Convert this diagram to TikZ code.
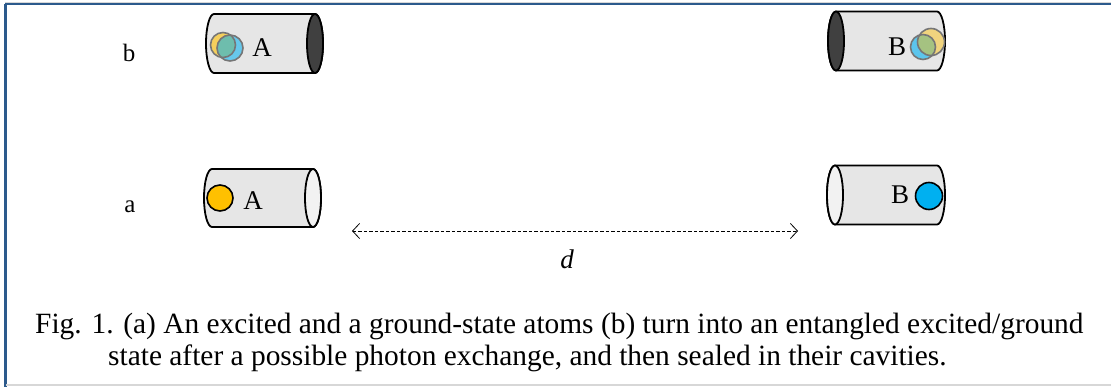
\documentclass[tikz,border=0pt]{standalone}
\usepackage{fontspec}
\setmainfont{Liberation Serif}
\usetikzlibrary{arrows.meta}
\definecolor{frameblue}{RGB}{44,90,140}
\definecolor{framegray}{RGB}{215,215,215}
\definecolor{cylfill}{RGB}{230,230,230}
\definecolor{capdark}{RGB}{64,64,64}
\definecolor{caplight}{RGB}{242,242,242}
\definecolor{atomyellow}{RGB}{255,192,0}
\definecolor{atomblue}{RGB}{0,176,240}
\definecolor{atomgray}{RGB}{118,118,118}
% body of a cylinder: #1 left cap centre x, #2 right cap centre x, #3 centre y, #4 y radius, #5 x radius
\newcommand{\cylbody}[5]{%
  \draw[cylline, fill=cylfill] (#1,#3-#4) -- (#2,#3-#4)
    arc[start angle=90, end angle=-90, x radius=#5pt, y radius=#4pt]
    -- (#1,#3+#4)
    arc[start angle=270, end angle=90, x radius=#5pt, y radius=#4pt] -- cycle;}
\tikzset{
  cylline/.style={draw=black, line width=1.8pt},
  lbl/.style={font=\fontsize{27}{31}\selectfont, inner sep=0pt},
  rowlbl/.style={font=\fontsize{25}{29}\selectfont, inner sep=0pt},
  captxt/.style={font=\fontsize{29.4}{34}\selectfont, inner sep=0pt, anchor=base west},
  atomline/.style={draw=black, line width=1.6pt},
  dist/.style={dashed, dash pattern=on 3.5pt off 2pt, line width=0.8pt,
     {Straight Barb[length=7pt,width=15pt,line width=0.8pt]}-{Straight Barb[length=7pt,width=15pt,line width=0.8pt]}}
}
\begin{document}
\begin{tikzpicture}[x=1pt,y=-1pt]
\useasboundingbox (0,0) rectangle (1111,387);
\fill[white] (0,0) rectangle (1111,387);
% frame
\draw[framegray, line width=1pt] (5,2.2) -- (1111,2.2);
\draw[frameblue, line width=2pt] (5,4.5) -- (1111,4.5);
\draw[frameblue, line width=2.2pt] (5.5,4) -- (5.5,387);
\draw[framegray, line width=1.2pt] (6,385) -- (1111,385);

% row labels
\node[rowlbl] (rb) at (129,53) {b};
\node[rowlbl] (ra) at (130,207) {a};

% ---- row b ----
% cylinder A (sealed on the right)
\cylbody{214}{315}{43.5}{29.5}{8}
\fill[atomyellow, fill opacity=0.6] (223,45) circle[radius=12.5pt];
\fill[atomblue, fill opacity=0.55] (230,48) circle[radius=13pt];
\draw[atomgray, line width=1.6pt] (223,45) circle[radius=12.5pt];
\draw[atomgray, line width=1.6pt] (230,48) circle[radius=13pt];
\node[lbl] (Ab) at (262,48) {A};
\draw[cylline, fill=capdark] (315,43.5) ellipse[x radius=8pt, y radius=29.5pt];

% cylinder B (sealed on the left)
\cylbody{836}{937}{41}{29.5}{8}
\fill[atomblue, fill opacity=0.6] (923,47) circle[radius=12.5pt];
\fill[atomyellow, fill opacity=0.45] (931,42) circle[radius=13.5pt];
\draw[atomgray, line width=1.6pt] (923,47) circle[radius=12.5pt];
\draw[atomgray, line width=1.6pt] (931,42) circle[radius=13.5pt];
\node[lbl] (Bb) at (897,47) {B};
\draw[cylline, fill=capdark] (836,41) ellipse[x radius=8pt, y radius=29.5pt];

% ---- row a ----
\cylbody{212}{313}{198}{29}{8}
\draw[atomline, fill=atomyellow] (220,198) circle[radius=13pt];
\node[lbl] (Aa) at (253,201) {A};
\draw[cylline, fill=caplight] (313,198) ellipse[x radius=8pt, y radius=29pt];

\cylbody{835}{937}{195}{29.5}{8}
\draw[atomline, fill=atomblue] (929,196) circle[radius=13.5pt];
\node[lbl] (Ba) at (900,195) {B};
\draw[cylline, fill=caplight] (835,195) ellipse[x radius=8pt, y radius=29.5pt];

% distance arrow
\coordinate (dl) at (352,231);
\coordinate (dr) at (798,231);
\draw[dist] (dl) -- (dr);
\node[lbl, font=\fontsize{27}{31}\selectfont\itshape] (d) at (567,259) {d};

% caption
\node[captxt] (c1) at (35,334) {Fig. 1. (a) An excited and a ground-state atoms (b) turn into an entangled excited/ground};
\node[captxt] (c2) at (108,365) {state after a possible photon exchange, and then sealed in their cavities.};
\end{tikzpicture}
\end{document}
